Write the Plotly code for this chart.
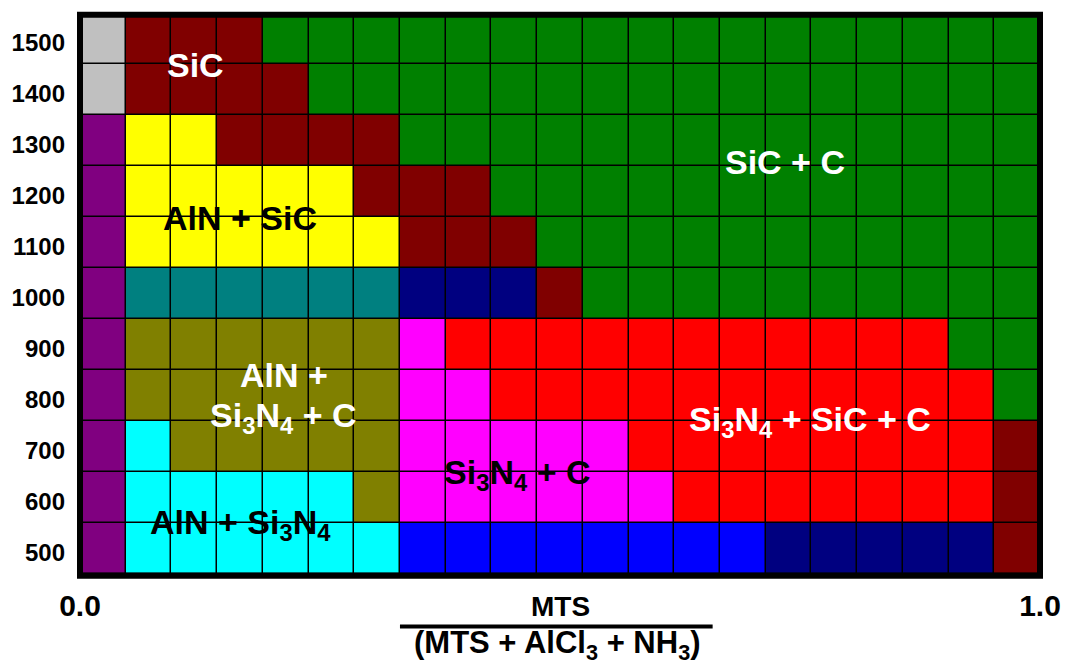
import plotly.graph_objects as go

# Deposition temperature (°C), one row of the map per value
temperatures = [500, 600, 700, 800, 900, 1000, 1100, 1200, 1300, 1400, 1500]

# Phase fields along the MTS fraction axis, as (phase code, number of cells) runs
phase_runs = {
    500:  [("P", 1), ("C", 6), ("B", 8), ("N", 5), ("M", 1)],
    600:  [("P", 1), ("C", 5), ("O", 1), ("F", 6), ("R", 7), ("M", 1)],
    700:  [("P", 1), ("C", 1), ("O", 5), ("F", 5), ("R", 8), ("M", 1)],
    800:  [("P", 1), ("O", 6), ("F", 2), ("R", 11), ("E", 1)],
    900:  [("P", 1), ("O", 6), ("F", 1), ("R", 11), ("E", 2)],
    1000: [("P", 1), ("T", 6), ("N", 3), ("M", 1), ("E", 10)],
    1100: [("P", 1), ("Y", 6), ("M", 3), ("E", 11)],
    1200: [("P", 1), ("Y", 5), ("M", 3), ("E", 12)],
    1300: [("P", 1), ("Y", 2), ("M", 4), ("E", 14)],
    1400: [("G", 1), ("M", 4), ("E", 16)],
    1500: [("G", 1), ("M", 3), ("E", 17)],
}

# Fill colour for every phase code
phase_codes = ["G", "M", "E", "P", "Y", "T", "N", "O", "F", "R", "C", "B"]
phase_colors = ["#C0C0C0", "#800000", "#008000", "#800080", "#FFFF00", "#008080",
                "#000080", "#808000", "#FF00FF", "#FF0000", "#00FFFF", "#0000FF"]

# Field labels: (text, column position, temperature, text colour)
field_labels = [
    ("SiC", 2.03, 1448, "white"),
    ("SiC + C", 14.93, 1258, "white"),
    ("AlN + SiC", 3.0, 1148, "black"),
    ("AlN +", 3.96, 841, "white"),
    ("Si<sub>3</sub>N<sub>4</sub> + C", 3.96, 756, "white"),
    ("Si<sub>3</sub>N<sub>4</sub> + SiC + C", 15.47, 749, "white"),
    ("Si<sub>3</sub>N<sub>4</sub> + C", 9.06, 645, "black"),
    ("AlN + Si<sub>3</sub>N<sub>4</sub>", 3.0, 547, "black"),
]

x_tick_labels = ["0.0", "1.0"]

FONT = "Liberation Sans, Arial, sans-serif"

code_index = {c: i for i, c in enumerate(phase_codes)}
z = []
for t in temperatures:
    row = []
    for code, n in phase_runs[t]:
        row.extend([code_index[code]] * n)
    z.append(row)
n_cols = len(z[0])

last = len(phase_codes) - 1
colorscale = [[i / last, c] for i, c in enumerate(phase_colors)]

fig = go.Figure(go.Heatmap(
    z=z,
    x=list(range(n_cols)),
    y=temperatures,
    colorscale=colorscale,
    zmin=0,
    zmax=last,
    showscale=False,
    xgap=1.5,
    ygap=1.5,
    hoverinfo="skip",
))

for text, xc, yc, color in field_labels:
    fig.add_annotation(
        x=xc, y=yc, xref="x", yref="y", text=text, showarrow=False,
        xanchor="center", yanchor="middle",
        font=dict(family=FONT, size=34, color=color, weight="bold"),
    )

# Axis title drawn as a fraction
fig.add_annotation(
    x=0.501, y=-0.058, xref="paper", yref="paper", text="MTS", showarrow=False,
    xanchor="center", yanchor="middle",
    font=dict(family=FONT, size=28, color="black", weight="bold"),
)
fig.add_annotation(
    x=0.497, y=-0.127, xref="paper", yref="paper",
    text="(MTS + AlCl<sub>3</sub> + NH<sub>3</sub>)",
    showarrow=False, xanchor="center", yanchor="middle",
    font=dict(family=FONT, size=31, color="black", weight="bold"),
)
fig.add_shape(
    type="line", xref="paper", yref="paper",
    x0=0.3333, x1=0.659, y0=-0.0935, y1=-0.0935,
    line=dict(color="black", width=4),
)

# Heavy frame round the map
fig.add_shape(
    type="rect", xref="paper", yref="paper", layer="above",
    x0=0, x1=1, y0=-0.003, y1=0.997,
    line=dict(color="black", width=6),
)

fig.update_xaxes(
    range=[-0.5, n_cols - 0.5],
    tickvals=[-0.5, n_cols - 0.5],
    ticktext=x_tick_labels,
    tickfont=dict(family=FONT, size=30, color="black", weight="bold"),
    ticks="", ticklabelstandoff=11, automargin=False,
    showgrid=False, zeroline=False, showline=False,
)
fig.update_yaxes(
    range=[temperatures[0] - 50, temperatures[-1] + 50],
    tickvals=[t - 9 for t in temperatures],
    ticktext=[str(t) for t in temperatures],
    tickfont=dict(family=FONT, size=24, color="black", weight="bold"),
    ticks="", ticklabelstandoff=14, automargin=False,
    showgrid=False, zeroline=False, showline=False,
)

fig.update_layout(
    width=1068, height=666,
    margin=dict(l=80, r=28, t=13, b=92),
    plot_bgcolor="black",
    paper_bgcolor="white",
    showlegend=False,
)

fig.write_html("out.html")
